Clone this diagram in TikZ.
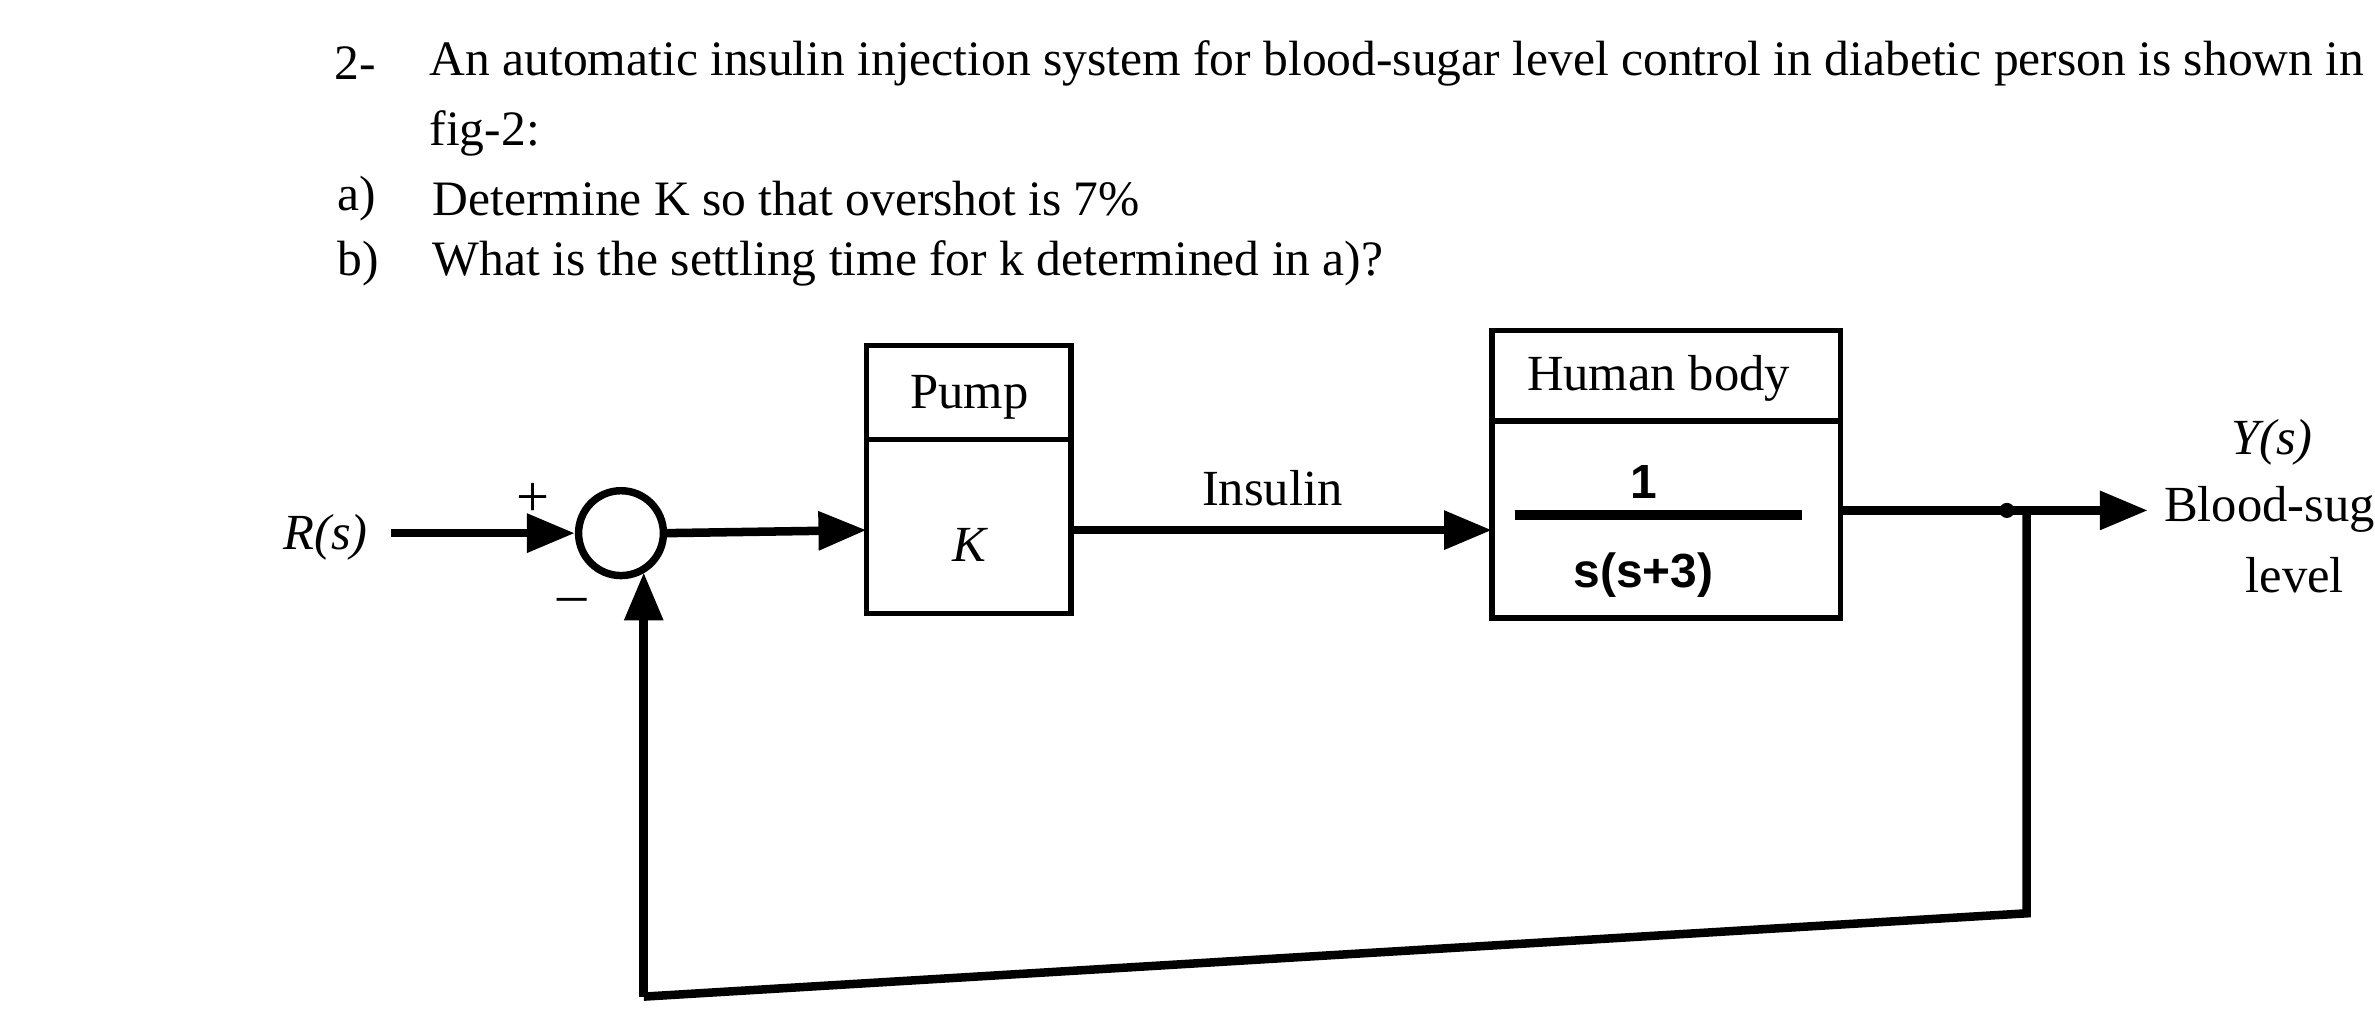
\documentclass[tikz,border=0pt]{standalone}
\usepackage{fontspec}
\setmainfont{Liberation Serif}
\newfontfamily\sansf{Liberation Sans}
\usetikzlibrary{arrows.meta}
\begin{document}
\begin{tikzpicture}[x=0.01cm,y=-0.01cm,
  txt/.style={font=\fontsize{9.3pt}{10pt}\selectfont,inner sep=0pt,anchor=west},
  dtxt/.style={font=\fontsize{9.5pt}{10pt}\selectfont,inner sep=0pt},
  bx/.style={draw,line width=1pt},
  wire/.style={line width=1.6pt},
  arr/.style={wire,-{Triangle[length=9pt,width=7pt]}}]
\useasboundingbox (0,0) rectangle (1568,674);
\node[txt] (t1) at (220,42) {2-};
\node[txt] (t2) at (283,42) {An automatic insulin injection system for blood-sugar level control in diabetic person is shown in};
\node[txt] (t3) at (283,88) {fig-2:};
\node[txt] (t4) at (222,131) {a)};
\node[txt] (t5) at (285,131) {Determine K so that overshot is 7\%};
\node[txt] (t6) at (222,174) {b)};
\node[txt] (t7) at (285,174) {What is the settling time for k determined in a)?};
% pump
\draw[bx] (572,228) rectangle (707,405);
\draw[bx] (572,290) -- (707,290);
\node[dtxt] (pump) at (640,262) {Pump};
\node[dtxt] (K) at (640,360) {\itshape K};
% human
\draw[bx] (985,218) rectangle (1215,408);
\draw[bx] (985,278) -- (1215,278);
\node[dtxt] (hb) at (1095,250) {Human body};
\node[dtxt,font=\sansf\fontsize{9pt}{10pt}\selectfont\bfseries] (one) at (1085,318) {1};
\draw[line width=2pt] (1000,340) -- (1190,340);
\node[dtxt,font=\sansf\fontsize{9pt}{10pt}\selectfont\bfseries] (den) at (1085,380) {s(s+3)};
% summing
\node[draw,circle,line width=1.4pt,minimum size=0.56cm,inner sep=0pt] (sum) at (410,352) {};
\node[dtxt] (R) at (215,355) {\itshape R(s)};
\node[dtxt,font=\fontsize{11pt}{12pt}\selectfont] (plus) at (352,330) {+};
\node[dtxt,font=\fontsize{11pt}{12pt}\selectfont] (minus) at (378,400) {--};
\coordinate (rin) at (258,352);
\draw[arr] (rin) -- (sum.west);
\coordinate (pin) at (572,350);
\draw[arr] (sum.east) -- (pin);
\coordinate (pout) at (707,350);
\coordinate (hin) at (985,350);
\draw[arr] (pout) -- (hin);
\node[dtxt] (ins) at (840,322) {Insulin};
\coordinate (hout) at (1215,337);
\coordinate (br) at (1325,337);
\coordinate (yend) at (1418,337);
\draw[arr] (hout) -- (yend);
\fill (br) circle (5);
\coordinate (fb) at (425,658);
\coordinate (fin) at (425,378);
\draw[wire] (br) -- (1338,337) -- (1338,603) -- (fb);
\draw[arr] (fb) -- (fin);
\node[dtxt] (Y) at (1500,292) {\itshape Y(s)};
\node[dtxt,anchor=west] (bs) at (1428,336) {Blood-sug};
\node[dtxt] (lv) at (1515,380) {level};
\end{tikzpicture}
\end{document}
